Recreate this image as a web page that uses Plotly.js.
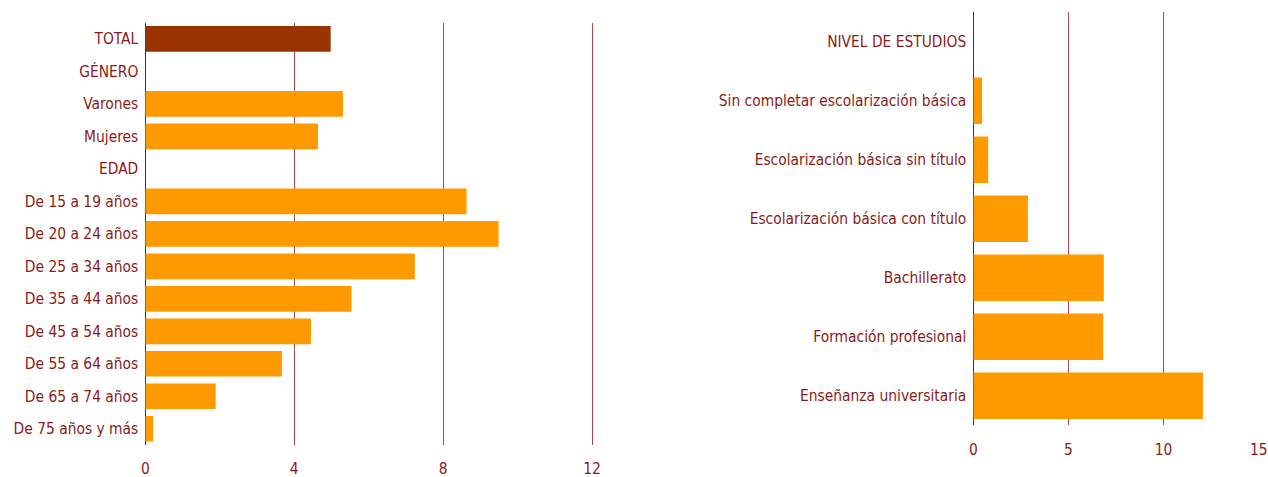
<!DOCTYPE html>
<html>
<head>
<meta charset="utf-8">
<script src="https://cdn.plot.ly/plotly-3.0.1.min.js"></script>
<style>html,body{margin:0;padding:0;background:#fff;}#chart{width:1268px;height:477px;}</style>
</head>
<body>
<div id="chart"></div>
<script>
// Left panel: TOTAL, género, edad
const leftCategories = ["TOTAL","GÉNERO","Varones","Mujeres","EDAD","De 15 a 19 años","De 20 a 24 años","De 25 a 34 años","De 35 a 44 años","De 45 a 54 años","De 55 a 64 años","De 65 a 74 años","De 75 años y más"];
const leftValues = [4.98, null, 5.31, 4.64, null, 8.63, 9.49, 7.24, 5.54, 4.45, 3.67, 1.89, 0.21];
const leftTicks = [0, 4, 8, 12];

// Right panel: nivel de estudios
const rightCategories = ["NIVEL DE ESTUDIOS","Sin completar escolarización básica","Escolarización básica sin título","Escolarización básica con título","Bachillerato","Formación profesional","Enseñanza universitaria"];
const rightValues = [null, 0.46, 0.78, 2.87, 6.86, 6.83, 12.07];
const rightTicks = [0, 5, 10, 15];

const ORANGE = "#FF9900";
const BROWN = "#993300";
const TXT = "#8B1A1A";
const GRID = "#A84848";
const FONT = "Tahoma, 'DejaVu Sans Condensed', 'DejaVu Sans', sans-serif";
const FS = 15.4;

const leftColors = leftCategories.map(c => c === "TOTAL" ? BROWN : ORANGE);

const traces = [
  {type:"bar", orientation:"h", y:leftCategories, x:leftValues, marker:{color:leftColors}, xaxis:"x", yaxis:"y", hoverinfo:"x+y"},
  {type:"bar", orientation:"h", y:rightCategories, x:rightValues, marker:{color:ORANGE}, xaxis:"x2", yaxis:"y2", hoverinfo:"x+y"}
];

const W = 1268, H = 477;
// pixel scale so that the last grid line sits inside the plotting range
const lUnit = (592 - 145.3) / 12, lMax = 12.04;
const rUnit = (1258.7 - 973.3) / 15, rMax = 15.05;

const xaxisBase = {showgrid:true, gridcolor:GRID, gridwidth:1, zeroline:true, zerolinecolor:"#7A1A1A", zerolinewidth:1, showline:false, ticks:"", tickfont:{family:FONT, size:FS, color:TXT}, ticklabelstandoff:13, fixedrange:true};
const yaxisBase = {showgrid:false, zeroline:false, showline:false, ticks:"", type:"category", autorange:"reversed", tickfont:{family:FONT, size:FS, color:TXT}, ticklabelstandoff:6, fixedrange:true};

const layout = {
  width:W, height:H,
  margin:{l:0, r:0, t:0, b:0},
  paper_bgcolor:"#fff", plot_bgcolor:"#fff",
  showlegend:false,
  bargap:0.21,
  font:{family:FONT, color:TXT, size:FS},
  xaxis:Object.assign({}, xaxisBase, {domain:[145.3/W, (145.3 + lMax*lUnit)/W], range:[0,lMax], tickvals:leftTicks, ticktext:leftTicks.map(String), anchor:"y"}),
  yaxis:Object.assign({}, yaxisBase, {domain:[1-445/H, 1-22.7/H], categoryarray:leftCategories, categoryorder:"array", anchor:"x"}),
  xaxis2:Object.assign({}, xaxisBase, {domain:[973.3/W, (973.3 + rMax*rUnit)/W], range:[0,rMax], tickvals:rightTicks, ticktext:rightTicks.map(String), anchor:"y2"}),
  yaxis2:Object.assign({}, yaxisBase, {domain:[1-425.3/H, 1-12.3/H], categoryarray:rightCategories, categoryorder:"array", anchor:"x2"})
};

Plotly.newPlot("chart", traces, layout, {displayModeBar:false, staticPlot:true});
</script>
</body>
</html>
